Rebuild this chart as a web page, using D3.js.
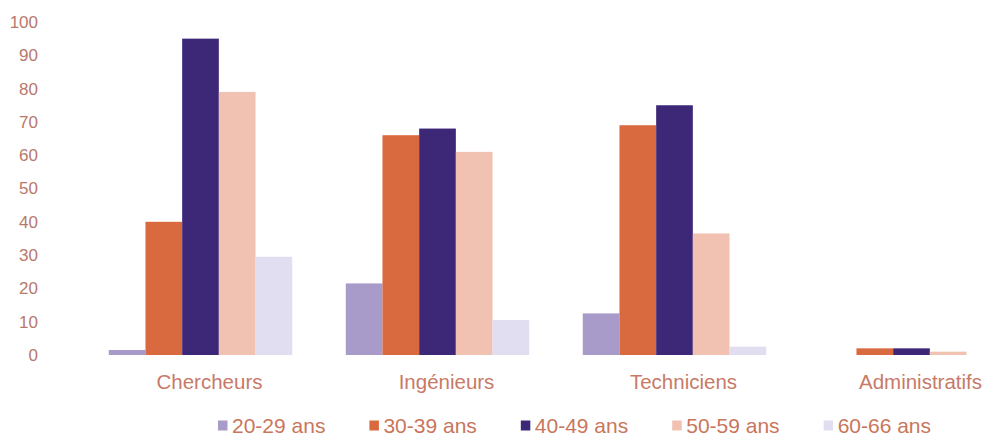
<!DOCTYPE html>
<html>
<head>
<meta charset="utf-8">
<script src="https://cdn.jsdelivr.net/npm/d3@7"></script>
<style>
  html, body { margin: 0; padding: 0; background: #ffffff; }
  svg { display: block; font-family: Arial, "Liberation Sans", sans-serif; }
</style>
</head>
<body>
<svg id="chart" width="992" height="439"></svg>
<script>
const categories = ["Chercheurs", "Ingénieurs", "Techniciens", "Administratifs"];
const seriesNames = ["20-29 ans", "30-39 ans", "40-49 ans", "50-59 ans", "60-66 ans"];
const values2029 = [1.5, 21.5, 12.5, 0];
const values3039 = [40, 66, 69, 2];
const values4049 = [95, 68, 75, 2];
const values5059 = [79, 61, 36.5, 1];
const values6066 = [29.5, 10.5, 2.5, 0];
const tickValues = [0, 10, 20, 30, 40, 50, 60, 70, 80, 90, 100];
const colors = ["#a89bc9", "#d9693f", "#3d2878", "#f1c1b1", "#e2def1"];

const seriesValues = [values2029, values3039, values4049, values5059, values6066];
const svg = d3.select("#chart");

const x0 = d3.scaleBand().domain(categories).range([82, 1030])
  .paddingInner(0.226).paddingOuter(0.113);
const x1 = d3.scaleBand().domain(seriesNames).range([0, x0.bandwidth()]).padding(0);
const y = d3.scaleLinear().domain([0, 100]).range([355, 22]);
const color = d3.scaleOrdinal().domain(seriesNames).range(colors);

// Y axis (labels only)
const yAxis = d3.axisLeft(y).tickValues(tickValues).tickSize(0).tickPadding(0);
const gy = svg.append("g").attr("transform", "translate(38,0)").call(yAxis);
gy.select(".domain").remove();
gy.selectAll("text").attr("font-size", 17).attr("fill", "#b8786c")
  .attr("font-family", "Arial, 'Liberation Sans', sans-serif");

// Bars
const groups = svg.append("g").selectAll("g").data(categories).join("g")
  .attr("transform", d => `translate(${x0(d)},0)`);
groups.selectAll("rect")
  .data((c, ci) => seriesNames.map((s, si) => ({ s, v: seriesValues[si][ci] })))
  .join("rect")
  .attr("x", d => x1(d.s))
  .attr("width", x1.bandwidth())
  .attr("y", d => y(d.v))
  .attr("height", d => y(0) - y(d.v))
  .attr("fill", d => color(d.s));

// X axis (category labels only)
const xAxis = d3.axisBottom(x0).tickSize(0).tickPadding(0);
const gx = svg.append("g").attr("transform", "translate(9,375)").call(xAxis);
gx.select(".domain").remove();
gx.selectAll("text").attr("font-size", 20.5).attr("fill", "#c77a68")
  .attr("dy", "0.68em")
  .attr("font-family", "Arial, 'Liberation Sans', sans-serif");

// Legend
const legend = svg.append("g").attr("transform", "translate(218,425)");
let lx = 0;
seriesNames.forEach((s, i) => {
  const g = legend.append("g").attr("transform", `translate(${lx},0)`);
  g.append("rect").attr("x", 0).attr("y", -4.5).attr("width", 9.5).attr("height", 10)
    .attr("fill", color(s));
  const t = g.append("text").attr("x", 14).attr("y", 0).attr("dy", "0.36em")
    .attr("font-size", 21).attr("fill", "#c9765c").text(s);
  lx += 14 + t.node().getComputedTextLength() + 44;
});
</script>
</body>
</html>
